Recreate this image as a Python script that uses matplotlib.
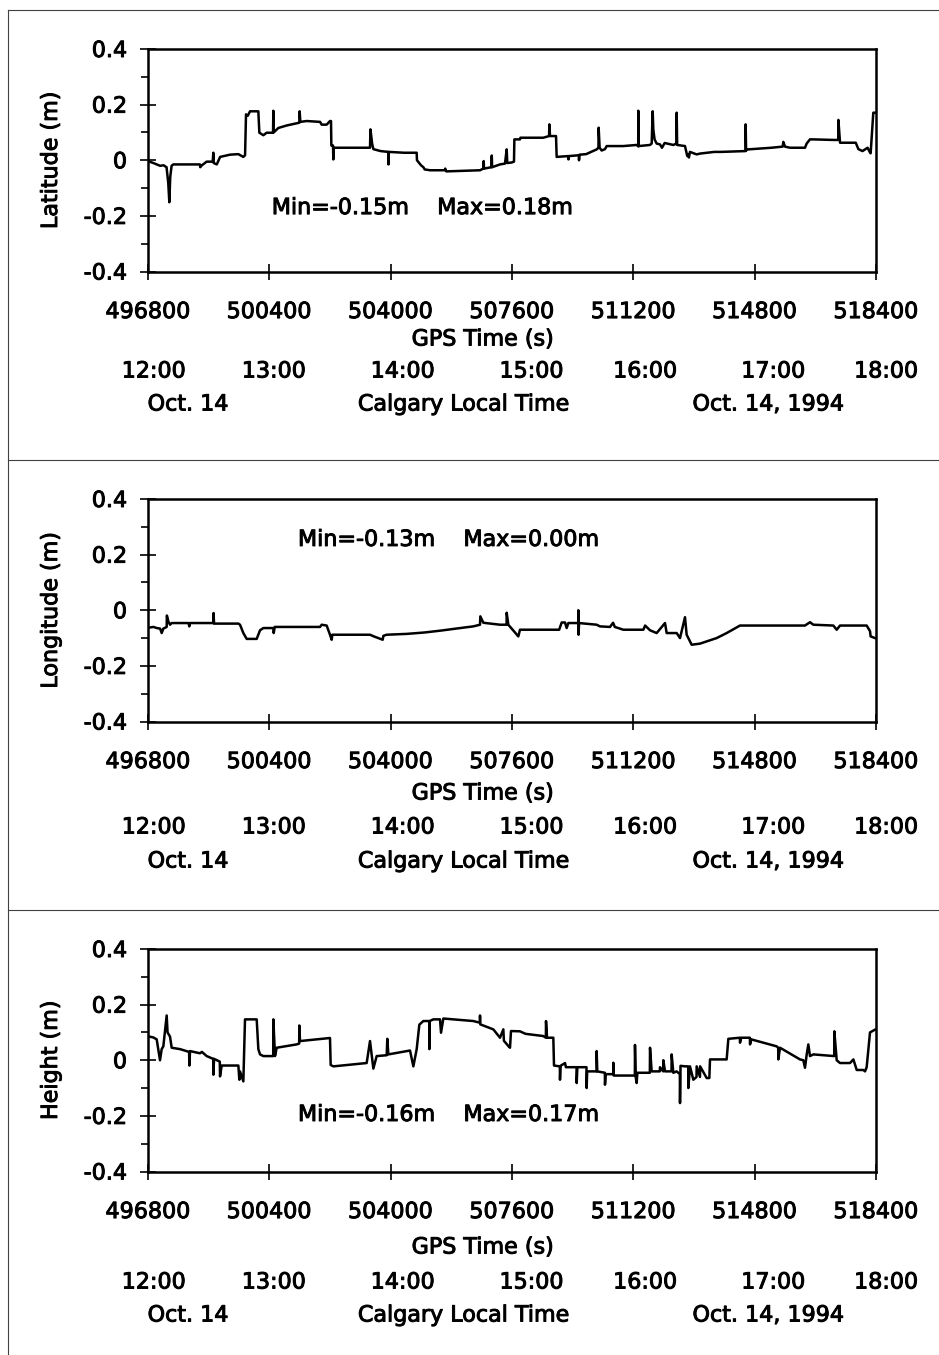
import numpy as np
import matplotlib.pyplot as plt
import matplotlib.patheffects as pe
from matplotlib.lines import Line2D

# GPS time (s) and error (m)
lat_t = [496800, 496960, 497060, 497160, 497260, 497350, 497400, 497433, 497460, 497500,
         497550, 498340, 498350, 498400, 498540, 498720, 498739, 498750, 498840, 498940,
         499230, 499480, 499629, 499680, 499708, 499760, 499827, 500074, 500104, 500222,
         500321, 500510, 500519, 500530, 500667, 500915, 501211, 501290, 501300, 501320,
         501508, 501904, 501953, 502101, 502200, 502230, 502240, 502290, 502299, 502310,
         503380, 503387, 503400, 503450, 503486, 503700, 503931, 503935, 503945, 504400,
         504772, 504780, 504900, 504970, 505010, 505167, 505600, 505620, 505650, 506651,
         506750, 506760, 506770, 506990, 507000, 507010, 507244, 507392, 507442, 507460,
         507590, 507659, 507670, 507837, 507850, 508530, 508700, 508708, 508728, 508906,
         508925, 509272, 509275, 509290, 509585, 509588, 509600, 509800, 510112, 510165,
         510171, 510200, 510260, 510359, 510409, 510900, 511299, 511345, 511348, 511360,
         511695, 511744, 511774, 511793, 511830, 511892, 511991, 512050, 512130, 512387,
         512480, 512486, 512500, 512733, 512780, 512800, 512830, 512850, 512880, 513079,
         513178, 513600, 513800, 514500, 514530, 514533, 514545, 514600, 515300, 515631,
         515651, 515700, 515848, 516293, 516343, 516440, 516541, 517134, 517280, 517284,
         517333, 517800, 517877, 518000, 518150, 518222, 518241, 518320, 518370]
lat_v = [-0.003, -0.010, -0.015, -0.020, -0.018, -0.025, -0.080, -0.151, -0.060, -0.020,
         -0.015, -0.015, -0.025, -0.018, -0.005, -0.005, 0.027, -0.010, -0.015, 0.012,
         0.020, 0.022, 0.012, 0.018, 0.165, 0.160, 0.176, 0.176, 0.099, 0.090,
         0.099, 0.099, 0.178, 0.100, 0.116, 0.125, 0.133, 0.135, 0.176, 0.138,
         0.141, 0.138, 0.128, 0.128, 0.141, 0.141, 0.053, 0.053, 0.003, 0.045,
         0.045, 0.045, 0.111, 0.060, 0.040, 0.033, 0.030, -0.015, 0.030, 0.027,
         0.027, 0.000, -0.018, -0.025, -0.033, -0.036, -0.036, -0.030, -0.040, -0.036,
         -0.030, -0.003, -0.030, -0.025, 0.017, -0.025, -0.015, -0.012, 0.039, -0.010,
         -0.008, -0.005, 0.075, 0.075, 0.081, 0.081, 0.087, 0.129, 0.087, 0.087,
         0.012, 0.015, 0.003, 0.015, 0.018, 0.000, 0.020, 0.022, 0.039, 0.045,
         0.117, 0.045, 0.035, 0.040, 0.051, 0.051, 0.055, 0.050, 0.178, 0.051,
         0.055, 0.060, 0.176, 0.110, 0.075, 0.060, 0.057, 0.045, 0.062, 0.055,
         0.060, 0.171, 0.055, 0.051, 0.025, 0.015, 0.020, 0.010, 0.030, 0.021,
         0.024, 0.030, 0.030, 0.033, 0.033, 0.129, 0.036, 0.039, 0.045, 0.049,
         0.066, 0.049, 0.045, 0.045, 0.060, 0.075, 0.075, 0.073, 0.073, 0.145,
         0.063, 0.063, 0.040, 0.033, 0.045, 0.028, 0.025, 0.171, 0.171]

lon_t = [496800, 496960, 497060, 497160, 497206, 497255, 497354, 497360, 497404, 497453,
         497503, 498000, 498027, 498040, 498739, 498745, 498760, 499481, 499530, 499629,
         499728, 500025, 500124, 500222, 500519, 500530, 500560, 501904, 501953, 502101,
         502200, 502250, 502270, 503387, 503500, 503763, 503783, 503882, 504475, 505000,
         505500, 506000, 506453, 506651, 506660, 506750, 507244, 507440, 507442, 507491,
         507788, 507837, 509000, 509074, 509173, 509222, 509272, 509565, 509568, 509575,
         509590, 510112, 510211, 510508, 510600, 510650, 510903, 511497, 511550, 511695,
         511892, 512140, 512189, 512486, 512585, 512733, 512782, 512931, 513178, 513376,
         513673, 513969, 514365, 516293, 516442, 516541, 517134, 517234, 517333, 518123,
         518222, 518241, 518370]
lon_v = [-0.063, -0.060, -0.064, -0.066, -0.082, -0.066, -0.060, -0.019, -0.040, -0.052,
         -0.046, -0.046, -0.058, -0.046, -0.046, -0.010, -0.048, -0.048, -0.052, -0.082,
         -0.103, -0.103, -0.072, -0.064, -0.064, -0.082, -0.060, -0.060, -0.052, -0.055,
         -0.088, -0.106, -0.088, -0.088, -0.094, -0.106, -0.092, -0.088, -0.085, -0.080,
         -0.073, -0.065, -0.058, -0.052, -0.022, -0.045, -0.052, -0.052, -0.009, -0.052,
         -0.094, -0.070, -0.070, -0.044, -0.044, -0.064, -0.046, -0.046, 0.000, -0.088,
         -0.046, -0.052, -0.058, -0.060, -0.045, -0.060, -0.070, -0.070, -0.055, -0.072,
         -0.082, -0.046, -0.082, -0.082, -0.100, -0.025, -0.088, -0.124, -0.120, -0.112,
         -0.100, -0.082, -0.055, -0.055, -0.043, -0.052, -0.055, -0.070, -0.055, -0.055,
         -0.075, -0.094, -0.100]

hgt_t = [496800, 496959, 497058, 497156, 497206, 497255, 497354, 497380, 497453, 497503,
         497750, 498020, 498027, 498047, 498343, 498400, 498541, 498735, 498739, 498760,
         498930, 498937, 498986, 499481, 499510, 499530, 499629, 499678, 500025, 500074,
         500124, 500222, 500515, 500519, 500568, 500618, 501211, 501285, 501290, 501310,
         502200, 502220, 502299, 503288, 503387, 503486, 503585, 503882, 503901, 503931,
         504574, 504673, 504772, 504851, 504970, 505145, 505148, 505160, 505266, 505464,
         505494, 505563, 506453, 506645, 506651, 506660, 507046, 507244, 507343, 507360,
         507500, 507541, 507570, 507837, 508000, 508530, 508605, 508609, 508640, 508826,
         508846, 509020, 509024, 509040, 509173, 509200, 509515, 509519, 509540, 509810,
         509815, 509830, 510108, 510112, 510130, 510355, 510359, 510380, 510603, 510607,
         510620, 511245, 511249, 511270, 511299, 511320, 511690, 511695, 511744, 511985,
         511991, 512085, 512090, 512140, 512333, 512337, 512387, 512486, 512580, 512585,
         512600, 512733, 512828, 512832, 512881, 512980, 513075, 513079, 513178, 513182,
         513376, 513455, 513475, 513969, 514019, 514360, 514365, 514400, 514658, 514662,
         514700, 515453, 515498, 515502, 515552, 516145, 516244, 516293, 516343, 516392,
         516442, 516541, 517134, 517160, 517164, 517234, 517333, 517630, 517729, 517828,
         518024, 518074, 518123, 518222, 518370]
hgt_v = [0.086, 0.082, 0.075, 0.000, 0.040, 0.050, 0.161, 0.100, 0.085, 0.045,
         0.040, 0.030, -0.019, 0.033, 0.025, 0.030, 0.015, 0.005, -0.052, 0.005,
         -0.005, -0.058, -0.019, -0.019, -0.070, -0.040, -0.076, 0.147, 0.147, 0.040,
         0.021, 0.015, 0.015, 0.147, 0.015, 0.045, 0.057, 0.060, 0.125, 0.069,
         0.080, -0.017, -0.022, -0.010, 0.069, -0.030, 0.015, 0.018, 0.077, 0.021,
         0.035, -0.022, 0.040, 0.128, 0.141, 0.141, 0.040, 0.141, 0.147, 0.147,
         0.099, 0.150, 0.141, 0.135, 0.161, 0.129, 0.111, 0.081, 0.111, 0.070,
         0.050, 0.045, 0.105, 0.104, 0.095, 0.087, 0.081, 0.141, 0.081, 0.081,
         -0.019, -0.022, -0.070, -0.020, -0.010, -0.025, -0.025, -0.082, -0.025, -0.025,
         -0.100, -0.040, -0.040, 0.033, -0.040, -0.045, -0.088, -0.050, -0.050, -0.009,
         -0.055, -0.055, 0.055, -0.060, -0.082, -0.045, -0.045, 0.045, -0.040, -0.040,
         -0.025, -0.040, 0.000, -0.040, -0.040, 0.021, -0.045, -0.040, -0.050, -0.154,
         -0.020, -0.022, -0.022, -0.100, -0.022, -0.070, -0.060, -0.022, -0.060, -0.022,
         -0.064, -0.064, 0.003, 0.003, 0.077, 0.081, 0.063, 0.081, 0.081, 0.057,
         0.075, 0.050, 0.045, 0.003, 0.045, 0.003, 0.000, -0.027, 0.020, 0.057,
         0.015, 0.021, 0.015, 0.015, 0.104, 0.000, -0.010, -0.010, 0.003, -0.035,
         -0.035, -0.040, -0.025, 0.100, 0.110]

ylabels = ['Latitude (m)', 'Longitude (m)', 'Height (m)']
stats = ['Min=-0.15m    Max=0.18m', 'Min=-0.13m    Max=0.00m', 'Min=-0.16m    Max=0.17m']
gps_ticks = [496800, 500400, 504000, 507600, 511200, 514800, 518400]
y_ticks = [-0.4, -0.2, 0, 0.2, 0.4]
y_ticklabels = ['-0.4', '-0.2', '0', '0.2', '0.4']
hours = ['12:00', '13:00', '14:00', '15:00', '16:00', '17:00', '18:00']
date_row = ['Oct. 14', 'Calgary Local Time', 'Oct. 14, 1994']

series = [(lat_t, lat_v), (lon_t, lon_v), (hgt_t, hgt_v)]

W, H = 939, 1355
fig = plt.figure(figsize=(W / 100, H / 100), dpi=100)
plt.rcParams['font.family'] = 'DejaVu Sans'
heavy = [pe.withStroke(linewidth=0.7, foreground='black')]   # scanned text looks heavier

# layout in pixels
ax_left, ax_w, ax_h = 148, 728, 222.5
tops = [49, 499, 949]
stat_pos = [(0.170, 0.285), (0.206, 0.816), (0.206, 0.254)]
row_off = [(68, 100, 133), (72, 106, 140), (76, 111, 144)]   # GPS label, hours, date rows
hour_x = [0.008, 0.173, 0.350, 0.527, 0.683, 0.859, 1.014]
date_x = [0.055, 0.434, 0.852]

for i, (t, v) in enumerate(series):
    ax = fig.add_axes([ax_left / W, 1 - (tops[i] + ax_h) / H, ax_w / W, ax_h / H])
    ax.plot(t, v, color='black', lw=1.8)
    ax.set_xlim(gps_ticks[0], gps_ticks[-1])
    ax.set_ylim(-0.4, 0.4)
    ax.set_xticks(gps_ticks)
    ax.set_xticklabels([str(g) for g in gps_ticks])
    ax.set_yticks(y_ticks)
    ax.set_yticklabels(y_ticklabels)
    ax.set_yticks(np.arange(-0.3, 0.31, 0.2), minor=True)
    ax.tick_params(which='major', direction='inout', length=12, width=1.2, labelsize=16)
    ax.tick_params(axis='y', which='major', pad=9)
    ax.tick_params(axis='x', which='major', pad=16)
    ax.tick_params(axis='y', which='minor', direction='out', length=5, width=1.2)
    for s in ax.spines.values():
        s.set_linewidth(1.8)
    for lab in ax.get_xticklabels() + ax.get_yticklabels():
        lab.set_path_effects(heavy)

    ax.text((51 - ax_left) / ax_w, 0.5, ylabels[i], rotation=90, ha='center', va='center',
            fontsize=16, transform=ax.transAxes, path_effects=heavy)
    ax.text(stat_pos[i][0], stat_pos[i][1], stats[i], ha='left', va='center',
            fontsize=16, transform=ax.transAxes, path_effects=heavy)

    g_off, h_off, d_off = row_off[i]
    ax.text(0.46, -g_off / ax_h, 'GPS Time (s)', ha='center', va='center',
            fontsize=16, transform=ax.transAxes, path_effects=heavy)
    for hx, lab in zip(hour_x, hours):
        ax.text(hx, -h_off / ax_h, lab, ha='center', va='center',
                fontsize=16, transform=ax.transAxes, path_effects=heavy)
    for dx, lab in zip(date_x, date_row):
        ax.text(dx, -d_off / ax_h, lab, ha='center', va='center',
                fontsize=16, transform=ax.transAxes, path_effects=heavy)

# panel frame lines
fx = 8 / W
fig.add_artist(Line2D([fx, fx], [0, 1 - 10 / H], color='0.25', lw=0.8))
for yy in [10, 460, 910]:
    fig.add_artist(Line2D([fx, 1], [1 - yy / H, 1 - yy / H], color='0.25', lw=0.8))

fig.savefig('out.png', dpi=100)
